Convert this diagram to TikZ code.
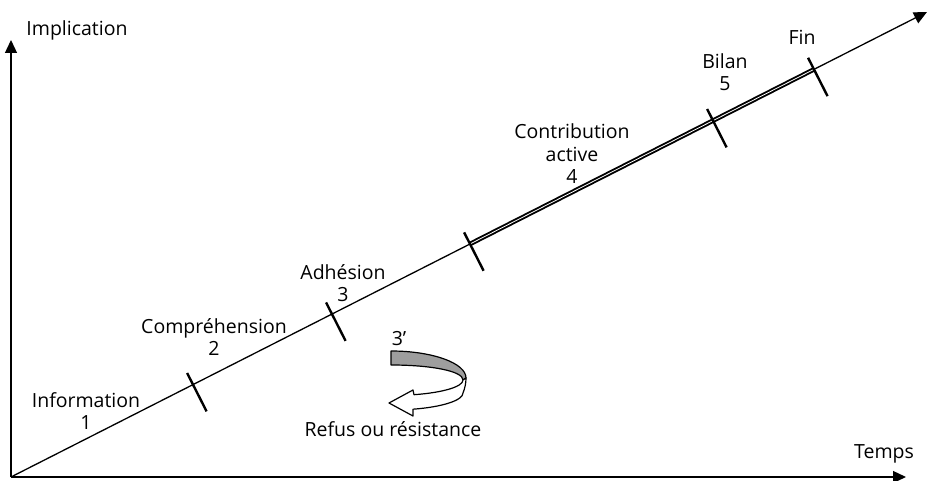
\documentclass[tikz,border=0pt]{standalone}
\usepackage{fontspec}
\setmainfont{Open Sans}
\usetikzlibrary{arrows.meta,calc}

\begin{document}
\begin{tikzpicture}[x=1pt,y=-1pt,
    axis/.style={line width=1.3pt,-{Triangle[length=13pt,width=12pt]}},
    phase/.style={line width=2.4pt},
    label/.style={font=\fontsize{19.5}{22.5}\selectfont,align=center,inner sep=0pt},
    ribbon/.style={line width=1.2pt,line join=round}
  ]
  \useasboundingbox (0,0) rectangle (930,481);

  % axes
  \coordinate (O) at (11,477);
  \coordinate (Ytip) at (11,40);
  \coordinate (Xtip) at (906,477);
  \coordinate (Dtip) at (927,12);
  \draw[axis] (O) -- (Ytip);
  \draw[axis] (O) -- (Xtip);
  \draw[axis] (O) -- (Dtip);

  % stage boundaries along the diagonal
  \coordinate (t1) at ($(O)!0.1987!(Dtip)$);
  \coordinate (t2) at ($(O)!0.3504!(Dtip)$);
  \coordinate (t3) at ($(O)!0.5011!(Dtip)$);
  \coordinate (t4) at ($(O)!0.7664!(Dtip)$);
  \coordinate (t5) at ($(O)!0.8766!(Dtip)$);

  % reinforced segment (stages 4 and 5)
  \draw[line width=1.9pt,double=white,double distance=0.8pt] (t3) -- (t5);

  \foreach \t in {t1,t2,t3,t4,t5}
    \draw[phase] ($(\t)+(-5.9,-11.6)$) -- ($(\t)+(13.6,26.8)$);

  % labels
  \node[label,anchor=base] (impl) at (77,36) {Implication};
  \node[label,anchor=base] (temps) at (884,458) {Temps};
  \node[label] (info) at (86,411) {Information\\1};
  \node[label] (comp) at (214,337) {Compréhension\\2};
  \node[label] (adh) at (343,283) {Adhésion\\3};
  \node[label] (contrib) at (572,154) {Contribution\\active\\4};
  \node[label] (bilan) at (725,72) {Bilan\\5};
  \node[label,anchor=base] (fin) at (802,45) {Fin};
  \node[label,anchor=base] (refl) at (399,346) {3’};
  \node[label,anchor=base] (refus) at (393,436) {Refus ou résistance};

  % turning ribbon: back side (grey) and front side ending in an arrow
  \draw[ribbon,fill=black!38]
    (391,351) .. controls (432.4,351) and (466,363.1) .. (466,378)
    -- (463,380)
    .. controls (463,371) and (430.7,365) .. (391,365) -- cycle;
  \draw[ribbon,fill=white]
    (463,380) .. controls (463,386.6) and (443.3,392.6) .. (414,394.7)
    -- (413,390) -- (389,403) -- (413,416) -- (413,409.2)
    .. controls (442.5,407) and (463,400.3) .. (463,393)
    .. controls (465,388) and (466,383) .. (466,378) -- cycle;
\end{tikzpicture}
\end{document}
